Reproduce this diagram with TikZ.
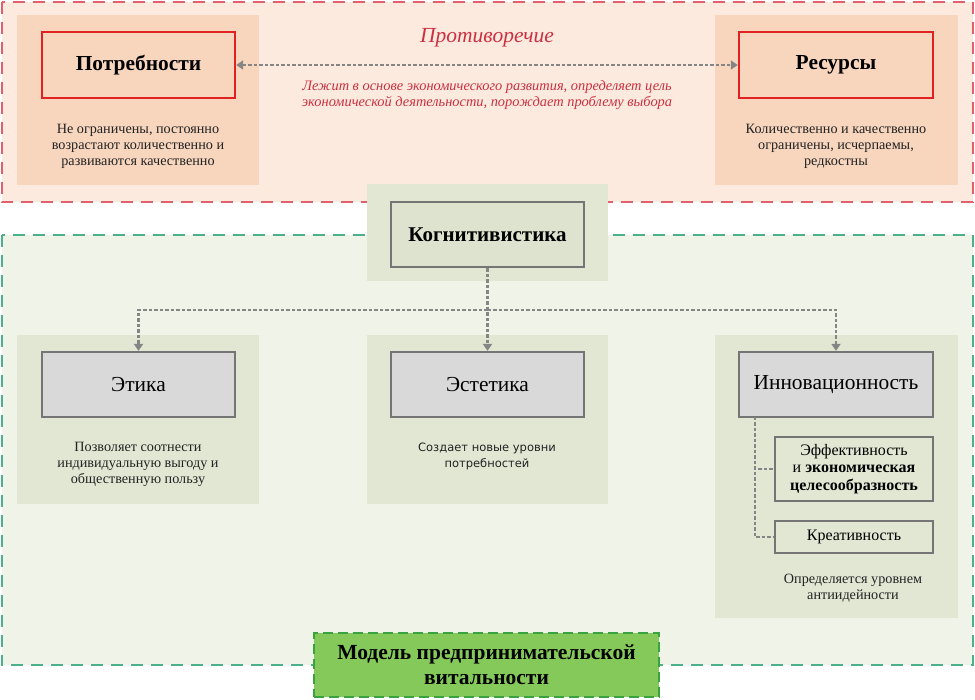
\documentclass[tikz,border=0pt]{standalone}
\usepackage{fontspec}
\setmainfont{Liberation Serif}
\newfontfamily\dvsans{DejaVu Sans}
\usetikzlibrary{arrows.meta}
\definecolor{redfill}{HTML}{FCEADF}
\definecolor{reddash}{HTML}{E0606E}
\definecolor{peach}{HTML}{F8D6BE}
\definecolor{boxred}{HTML}{E02222}
\definecolor{greenfill}{HTML}{F0F3E8}
\definecolor{greendash}{HTML}{4DB08C}
\definecolor{olive}{HTML}{E2E7D4}
\definecolor{kogfill}{HTML}{DEE3CF}
\definecolor{graybox}{HTML}{D9D9D9}
\definecolor{grayline}{HTML}{757575}
\definecolor{connc}{HTML}{858585}
\definecolor{modfill}{HTML}{84C95A}
\definecolor{moddash}{HTML}{3AA340}
\definecolor{redtext}{HTML}{CC3040}
\definecolor{txt}{HTML}{222222}
\tikzset{
  panel/.style={rectangle, inner sep=0pt, draw=none},
  redbox/.style={rectangle, draw=boxred, line width=2.4pt, fill=peach, inner sep=0pt, font=\fontsize{21.4}{24}\selectfont\bfseries},
  graynode/.style={rectangle, draw=grayline, line width=2.2pt, fill=graybox, inner sep=0pt, font=\fontsize{21.4}{24}\selectfont},
  kognode/.style={rectangle, draw=grayline, line width=2.2pt, fill=kogfill, inner sep=0pt, font=\fontsize{21}{24}\selectfont\bfseries},
  subbox/.style={rectangle, draw=grayline, line width=1.6pt, fill=olive, inner sep=0pt, align=center, font=\fontsize{16}{17.5}\selectfont},
  desc/.style={align=center, inner sep=0pt, text=txt, font=\fontsize{14.2}{16}\selectfont},
  conn/.style={draw=connc, line width=2.2pt, dash pattern=on 3.5pt off 2pt},
  arr/.style={-{Triangle[length=7pt,width=9pt]}},
}
\begin{document}
\begin{tikzpicture}[x=1pt,y=-1pt]
\useasboundingbox (0,0) rectangle (975,700);
\fill[white] (0,0) rectangle (975,700);
% outer regions
\node[panel, fill=redfill, minimum width=971pt, minimum height=200pt] (redreg) at (487.5,102) {};
\node[panel, fill=greenfill, minimum width=971pt, minimum height=430pt] (greenreg) at (487.5,450) {};
\draw[reddash, line width=2pt, dash pattern=on 12pt off 8pt] (redreg.north west) rectangle (redreg.south east);
\draw[greendash, line width=2pt, dash pattern=on 12pt off 8pt] (greenreg.north west) rectangle (greenreg.south east);
% panels
\node[panel, fill=peach, minimum width=242pt, minimum height=170pt] (pl) at (138,100) {};
\node[panel, fill=peach, minimum width=243pt, minimum height=170pt] (pr) at (836.5,100) {};
\node[panel, fill=olive, minimum width=241pt, minimum height=97pt] (kogbg) at (487.5,232.5) {};
\node[panel, fill=olive, minimum width=242pt, minimum height=169pt] (ethbg) at (138,419.5) {};
\node[panel, fill=olive, minimum width=241pt, minimum height=169pt] (estbg) at (487.5,419.5) {};
\node[panel, fill=olive, minimum width=243pt, minimum height=283pt] (innbg) at (836.5,476.5) {};
% top nodes
\node[redbox, minimum width=193pt, minimum height=66pt] (potr) at (138.5,65) {Потребности};
\node[redbox, minimum width=194pt, minimum height=66pt] (res) at (836,65) {Ресурсы};
\node[text=redtext, inner sep=0pt, font=\fontsize{21.5}{24}\selectfont\itshape] (contr) at (487,38) {Противоречие};
\node[text=redtext, align=center, inner sep=0pt, font=\fontsize{14.4}{16}\selectfont\itshape] (contrtxt) at (487,95)
  {Лежит в основе экономического развития, определяет цель\\экономической деятельности, порождает проблему выбора};
\draw[conn, {Triangle[length=7pt,width=9pt]}-{Triangle[length=7pt,width=9pt]}] (potr.east) -- (res.west);
\node[desc] (potrd) at (138,146) {Не ограничены, постоянно\\возрастают количественно и\\развиваются качественно};
\node[desc] (resd) at (836,146) {Количественно и качественно\\ограничены, исчерпаемы,\\редкостны};
% middle
\node[kognode, minimum width=193pt, minimum height=65pt] (kog) at (487.5,234.5) {Когнитивистика};
\node[graynode, minimum width=193pt, minimum height=65pt] (eth) at (138.5,384.5) {Этика};
\node[graynode, minimum width=193pt, minimum height=65pt] (est) at (487.5,384.5) {Эстетика};
\node[graynode, minimum width=194pt, minimum height=65pt] (inn) at (836,384.5) {Инновационность};
\coordinate (split) at (487.5,310);
\draw[conn, arr] (kog.south) -- (est.north);
\draw[conn, arr] (split) -| (eth.north);
\draw[conn, arr] (split) -| (inn.north);
\node[desc] (ethd) at (138,464) {Позволяет соотнести\\индивидуальную выгоду и\\общественную пользу};
\node[desc, font=\dvsans\fontsize{11.5}{16}\selectfont] (estd) at (487,456) {Создает новые уровни\\потребностей};
% innovation children
\node[subbox, minimum width=158pt, minimum height=64pt] (eff) at (854,469) {Эффективность\\и \textbf{экономическая}\\\textbf{целесообразность}};
\node[subbox, minimum width=158pt, minimum height=32pt] (kre) at (854,537) {Креативность};
\coordinate (innstem) at (755,417);
\draw[conn] (innstem) |- (eff.west);
\draw[conn] (innstem) |- (kre.west);
\node[desc] (innd) at (853,588) {Определяется уровнем\\антиидейности};
% model
\node[rectangle, fill=modfill, draw=moddash, line width=2.2pt, dash pattern=on 10pt off 5pt, minimum width=345pt, minimum height=64pt, inner sep=0pt, align=center, font=\fontsize{21.5}{25}\selectfont\bfseries] (model) at (486.5,665) {Модель предпринимательской\\витальности};
\end{tikzpicture}
\end{document}
